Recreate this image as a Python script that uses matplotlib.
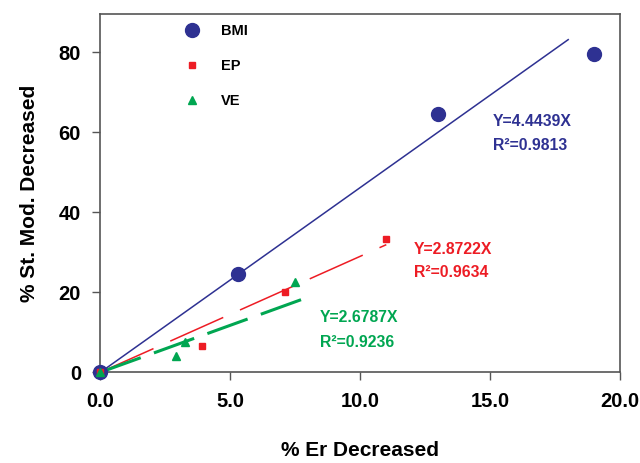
import numpy as np
import matplotlib
matplotlib.use("Agg")
import matplotlib.pyplot as plt

plt.rcParams['font.family'] = ['Liberation Sans', 'DejaVu Sans']
plt.rcParams['font.weight'] = 'bold'
plt.rcParams['axes.labelweight'] = 'bold'

# data
bmi_x = [0.0, 5.3, 13.0, 19.0]
bmi_y = [0.0, 24.5, 64.5, 79.5]
ep_x = [0.0, 3.9, 7.1, 11.0]
ep_y = [0.0, 6.5, 20.0, 33.2]
ve_x = [0.0, 2.9, 3.25, 7.5]
ve_y = [0.0, 4.0, 7.5, 22.5]

# printed fit equations
bmi_slope, bmi_r2 = 4.4439, 0.9813
ep_slope, ep_r2 = 2.8722, 0.9634
ve_slope, ve_r2 = 2.6787, 0.9236

# fit lines as they are drawn in the picture (slope, end x)
bmi_line = (4.62, 18.0)
ep_line = (2.9, 11.0)
ve_line = (2.35, 8.0)

blue = '#2e3192'
red = '#ed1c24'
green = '#00a651'

fig = plt.figure(figsize=(6.4, 4.63), dpi=100)
ax = fig.add_axes([0.157, 0.196, 0.812, 0.774])

# fit lines
xl = np.array([0, bmi_line[1]])
ax.plot(xl, bmi_line[0] * xl, color=blue, lw=1.1, zorder=2)
xl = np.array([0, ep_line[1]])
ax.plot(xl, ep_line[0] * xl, color=red, lw=1.1, dashes=(38, 12), zorder=2)
xl = np.array([0, ve_line[1]])
ax.plot(xl, ve_line[0] * xl, color=green, lw=2.2, dashes=(14, 4.6), zorder=2)

# points
ax.plot(bmi_x, bmi_y, 'o', color=blue, ms=10, ls='none', label='BMI', clip_on=False, zorder=3)
ax.plot(ep_x, ep_y, 's', color=red, ms=5, ls='none', label='EP', clip_on=False, zorder=4)
ax.plot(ve_x, ve_y, '^', color=green, ms=6, ls='none', label='VE', clip_on=False, zorder=5)

# equations
ax.text(15.1, 62.8, 'Y=%.4fX' % bmi_slope, color=blue, fontsize=11.3, va='center')
ax.text(15.1, 56.6, 'R²=%.4f' % bmi_r2, color=blue, fontsize=11.3, va='center')
ax.text(12.05, 30.8, 'Y=%.4fX' % ep_slope, color=red, fontsize=11.3, va='center')
ax.text(12.05, 25.0, 'R²=%.4f' % ep_r2, color=red, fontsize=11.3, va='center')
ax.text(8.45, 13.8, 'Y=%.4fX' % ve_slope, color=green, fontsize=11.3, va='center')
ax.text(8.45, 7.5, 'R²=%.4f' % ve_r2, color=green, fontsize=11.3, va='center')

ax.set_xlim(0, 20)
ax.set_ylim(0, 89.6)
ax.set_xticks([0, 5, 10, 15, 20])
ax.set_xticklabels(['0.0', '5.0', '10.0', '15.0', '20.0'])
ax.set_yticks([0, 20, 40, 60, 80])
ax.tick_params(labelsize=14.5, length=6, width=1, color='#555555', pad=8)
for s in ax.spines.values():
    s.set_color('#555555')
    s.set_linewidth(1.2)

ax.set_xlabel('% Er Decreased', fontsize=15, labelpad=22)
ax.set_ylabel('% St. Mod. Decreased', fontsize=15, labelpad=14)

ax.legend(loc='upper left', bbox_to_anchor=(0.122, 1.008), frameon=False, fontsize=10.5,
          labelspacing=1.45, handletextpad=1.0, markerscale=1.0, numpoints=1)

fig.savefig('out.png', dpi=100)
